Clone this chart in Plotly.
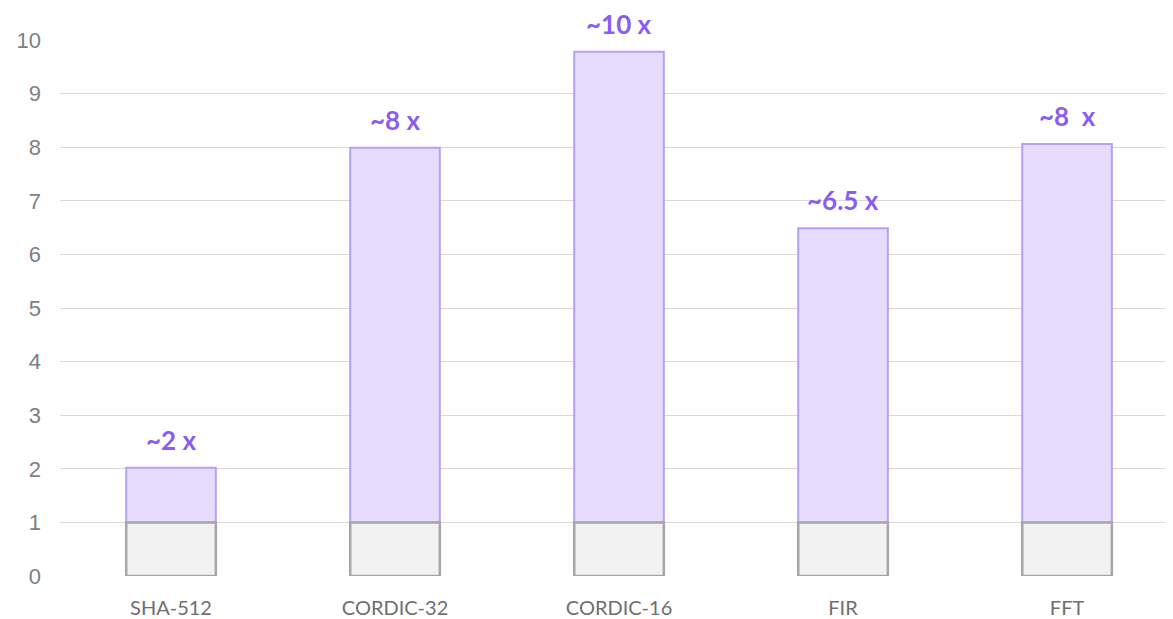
import plotly.graph_objects as go

categories = ["SHA-512", "CORDIC-32", "CORDIC-16", "FIR", "FFT"]
baseline = [1, 1, 1, 1, 1]
totals = [2.02, 7.99, 9.78, 6.49, 8.06]
labels = ["~2 x", "~8 x", "~10 x", "~6.5 x", "~8  x"]

extra = [t - b for t, b in zip(totals, baseline)]
xi = list(range(len(categories)))

fig = go.Figure()
fig.add_trace(go.Bar(
    x=xi, y=extra, base=baseline, width=0.4,
    marker=dict(color="#e6dcfe", line=dict(color="#b89ef8", width=2)),
    hoverinfo="skip", showlegend=False,
))
fig.add_trace(go.Bar(
    x=xi, y=baseline, width=0.4,
    marker=dict(color="#f2f2f2", line=dict(color="#a6a6a6", width=2.5)),
    hoverinfo="skip", showlegend=False,
))

for i, (t, lab) in enumerate(zip(totals, labels)):
    fig.add_annotation(
        x=i, y=t, text=f"<b>{lab}</b>", showarrow=False,
        yanchor="middle", yshift=28,
        font=dict(family="Lato", size=26, color="#8b5cf0"),
    )

fig.update_layout(
    barmode="overlay",
    width=1165, height=611,
    margin=dict(l=52, r=0, t=32, b=43),
    paper_bgcolor="white", plot_bgcolor="white",
    xaxis=dict(
        tickmode="array", tickvals=xi, ticktext=categories,
        range=[-0.4955, 4.473],
        showgrid=False, zeroline=False, showline=False,
        ticks="", ticklabelstandoff=18,
        tickfont=dict(family="Lato", size=20, color="#6f6f6f"),
    ),
    yaxis=dict(
        range=[0, 10], dtick=1,
        showgrid=True, gridcolor="#d9d9d9", gridwidth=1,
        zeroline=False, showline=False, ticks="",
        ticklabelstandoff=18,
        tickfont=dict(family="Liberation Sans", size=22, color="#808080"),
    ),
)

fig.write_html("out.html")
